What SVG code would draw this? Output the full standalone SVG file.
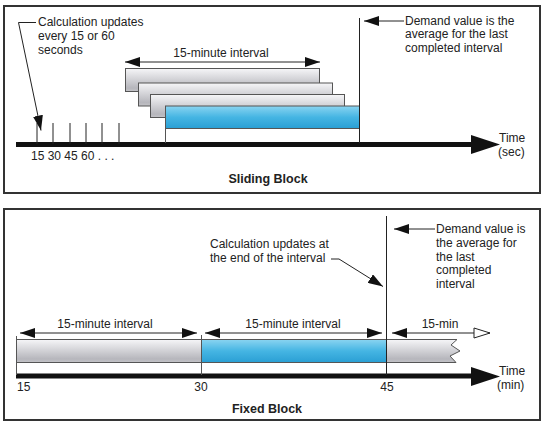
<svg xmlns="http://www.w3.org/2000/svg" width="547" height="427" viewBox="0 0 547 427">
<defs>
<linearGradient id="gGray" x1="0" y1="0" x2="0" y2="1">
<stop offset="0" stop-color="#f6f6f8"/>
<stop offset="0.85" stop-color="#b6b6bc"/>
<stop offset="1" stop-color="#c4c4c8"/>
</linearGradient>
<linearGradient id="gBlue" x1="0" y1="0" x2="0" y2="1">
<stop offset="0" stop-color="#8ad4f1"/>
<stop offset="0.5" stop-color="#45b5e3"/>
<stop offset="1" stop-color="#2a9fd4"/>
</linearGradient>
<marker id="ah" markerUnits="userSpaceOnUse" markerWidth="16" markerHeight="10" refX="15" refY="5" orient="auto-start-reverse">
<path d="M0,0 L15,5 L0,10 z" fill="#111"/>
</marker>
<marker id="ahOpen" markerUnits="userSpaceOnUse" markerWidth="20" markerHeight="14" refX="17" refY="7" orient="auto">
<path d="M1,2 L17,7 L1,12 z" fill="#fff" stroke="#222" stroke-width="1"/>
</marker>
</defs>
<style>
.panel{fill:#fff;stroke:#333;stroke-width:2}
text{font-family:"Liberation Sans",Arial,sans-serif;font-size:12px;fill:#222}
.bold{font-weight:bold;font-size:12.5px}
.mid{text-anchor:middle}
.thin{stroke:#222;stroke-width:1;fill:none}
.guide{stroke:#555;stroke-width:1;fill:none}
.arr{stroke:#222;stroke-width:1;fill:none;marker-end:url(#ah)}
.arr2{stroke:#222;stroke-width:1;fill:none;marker-start:url(#ah);marker-end:url(#ah)}
.axis{stroke:#111;stroke-width:5;fill:none}
.head{fill:#111}
.barG{fill:url(#gGray);stroke:#555;stroke-width:1}
.barB{fill:url(#gBlue);stroke:#555;stroke-width:1}
</style>

<g id="sliding-panel">
<rect class="panel" x="4" y="6" width="536" height="187"/>
<text class="bold mid" x="268" y="183">Sliding Block</text>
</g>

<g id="fixed-panel">
<rect class="panel" x="4" y="209" width="536" height="211"/>
<text class="bold mid" x="267" y="413">Fixed Block</text>
</g>

<g id="sliding-bars">
<rect class="barG" x="125.5" y="68.5" width="194" height="23"/>
<rect class="barG" x="138.5" y="83" width="194" height="23"/>
<rect class="barG" x="150.5" y="94.5" width="194" height="23"/>
<rect class="barB" x="165.5" y="106" width="194" height="22.5"/>
</g>

<g id="sliding-axis">
<line class="axis" x1="16" y1="144.5" x2="474" y2="144.5"/>
<polygon class="head" points="471,135 500,144.5 471,154"/>
<text x="499" y="142">Time</text>
<text x="498" y="156">(sec)</text>
<g class="thin">
<line x1="37" y1="123" x2="37" y2="144"/>
<line x1="53" y1="123" x2="53" y2="144"/>
<line x1="70" y1="123" x2="70" y2="144"/>
<line x1="86" y1="123" x2="86" y2="144"/>
<line x1="102" y1="123" x2="102" y2="144"/>
<line x1="119" y1="123" x2="119" y2="144"/>
</g>
<text x="31" y="160">15 30 45 60 . . .</text>
</g>

<g id="sliding-labels">
<text x="38" y="26">Calculation updates</text>
<text x="38" y="40">every 15 or 60</text>
<text x="38" y="54">seconds</text>
<text class="mid" x="221" y="57">15-minute interval</text>
<text x="405" y="25">Demand value is the</text>
<text x="405" y="38">average for the last</text>
<text x="405" y="52">completed interval</text>
</g>

<g id="fixed-bars">
<rect class="barG" x="16.5" y="339.5" width="185" height="23"/>
<rect class="barB" x="201.5" y="339.5" width="185" height="23"/>
<path class="barG" d="M386.5,339.5 L457,339.5 L451,345 L460,351 L450,356 L456,362.5 L386.5,362.5 z"/>
</g>

<g id="fixed-axis">
<line class="axis" x1="16" y1="376" x2="474" y2="376"/>
<polygon class="head" points="471,367 500,376.5 471,386"/>
<text x="499" y="375">Time</text>
<text x="497" y="389">(min)</text>
<text x="17" y="391">15</text>
<text class="mid" x="201" y="391">30</text>
<text class="mid" x="387" y="391">45</text>
</g>

<g id="fixed-labels">
<text x="210" y="248">Calculation updates at</text>
<text x="210" y="262">the end of the interval</text>
<text x="436" y="233">Demand value is</text>
<text x="436" y="247">the average for</text>
<text x="436" y="260.5">the last</text>
<text x="436" y="274">completed</text>
<text x="436" y="287.5">interval</text>
<text class="mid" x="105" y="328">15-minute interval</text>
<text class="mid" x="293" y="328">15-minute interval</text>
<text class="mid" x="440" y="328">15-min</text>
</g>

<g id="connectors">
<line class="guide" x1="165.5" y1="128" x2="165.5" y2="143"/>
<line class="thin" x1="359.5" y1="18" x2="359.5" y2="143"/>
<polyline class="arr" points="36,22.5 18.5,22.5 41,130.5"/>
<line class="arr2" x1="125" y1="62" x2="320" y2="62"/>
<line class="arr" x1="404" y1="21" x2="364" y2="21"/>
<line class="thin" x1="386.5" y1="216" x2="386.5" y2="375"/>
<line class="guide" x1="16.5" y1="336" x2="16.5" y2="375"/>
<line class="guide" x1="201.5" y1="335" x2="201.5" y2="375"/>
<polyline class="arr" points="331,259 339,259 383,286.5"/>
<line class="arr" x1="435" y1="229" x2="394" y2="229"/>
<line class="arr2" x1="20" y1="333" x2="197" y2="333"/>
<line class="arr2" x1="205" y1="333" x2="382" y2="333"/>
<line class="thin" x1="392" y1="333" x2="490" y2="333" marker-start="url(#ah)" marker-end="url(#ahOpen)"/>
</g>
</svg>
